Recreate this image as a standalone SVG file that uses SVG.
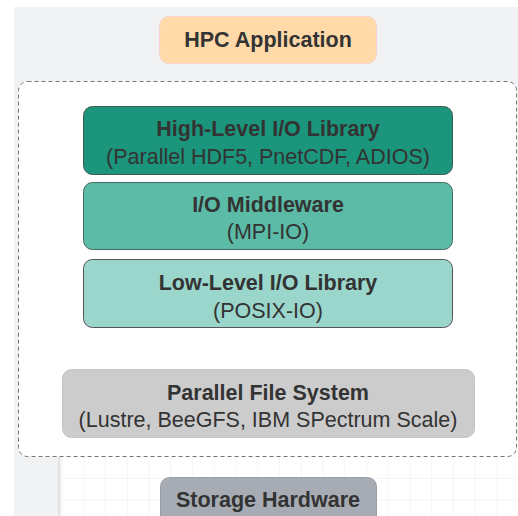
<svg xmlns="http://www.w3.org/2000/svg" width="518" height="516" viewBox="0 0 518 516">
<defs>
<pattern id="grid" x="62.5" y="0.5" width="21.75" height="21.75" patternUnits="userSpaceOnUse">
<path d="M21.75 0V21.75M0 21.75H21.75" fill="none" stroke="#ebebeb" stroke-width="1"/>
</pattern>
<linearGradient id="shadow" x1="0" x2="1" y1="0" y2="0">
<stop offset="0" stop-color="#d8d9dc"/>
<stop offset="1" stop-color="#ffffff" stop-opacity="0"/>
</linearGradient>
</defs>
<style>
.t{font-family:"Liberation Sans",Arial,sans-serif;fill:#333;text-anchor:middle}
.b{font-weight:bold;font-size:21.5px}
.r{font-size:21.5px}
.box{stroke-width:1}
</style>
<rect x="0" y="0" width="518" height="516" fill="#ffffff"/>
<rect x="14" y="7" width="504" height="509" fill="#f1f2f4"/>
<rect x="61" y="440" width="457" height="76" fill="#ffffff"/>
<rect x="61" y="440" width="457" height="76" fill="url(#grid)"/>
<rect x="58" y="440" width="5" height="76" fill="url(#shadow)"/>
<rect id="container" x="18.5" y="81.5" width="498" height="375" rx="9" fill="#ffffff" stroke="#777" stroke-width="1" stroke-dasharray="4 3"/>
<g id="hpc-app">
<rect class="box" x="159.5" y="16.5" width="217" height="47" rx="9" fill="#ffdaa8" stroke="#f7d3d6"/>
<text class="t b" x="268" y="47">HPC Application</text>
</g>
<g id="high-level">
<rect class="box" x="83.5" y="106.5" width="369" height="68" rx="9" fill="#1b957b" stroke="#3f5a52"/>
<text class="t b" x="268" y="136">High-Level I/O Library</text>
<text class="t r" x="268" y="164">(Parallel HDF5, PnetCDF, ADIOS)</text>
</g>
<g id="middleware">
<rect class="box" x="83.5" y="182.5" width="369" height="67" rx="9" fill="#5bbba6" stroke="#456b62"/>
<text class="t b" x="268" y="212">I/O Middleware</text>
<text class="t r" x="268" y="239">(MPI-IO)</text>
</g>
<g id="low-level">
<rect class="box" x="83.5" y="259.5" width="369" height="68" rx="9" fill="#9ad6cb" stroke="#555"/>
<text class="t b" x="268" y="290">Low-Level I/O Library</text>
<text class="t r" x="268" y="318">(POSIX-IO)</text>
</g>
<g id="pfs">
<rect class="box" x="62.5" y="369.5" width="412" height="68" rx="9" fill="#cccccc" stroke="#c4c4c4"/>
<text class="t b" x="268" y="400">Parallel File System</text>
<text class="t r" x="268" y="427">(Lustre, BeeGFS, IBM SPectrum Scale)</text>
</g>
<g id="storage">
<rect class="box" x="160.5" y="477.5" width="216" height="50" rx="9" fill="#a7acb4" stroke="#9a9fa7"/>
<text class="t b" x="268" y="507">Storage Hardware</text>
</g>
<g id="connectors"></g>
</svg>
